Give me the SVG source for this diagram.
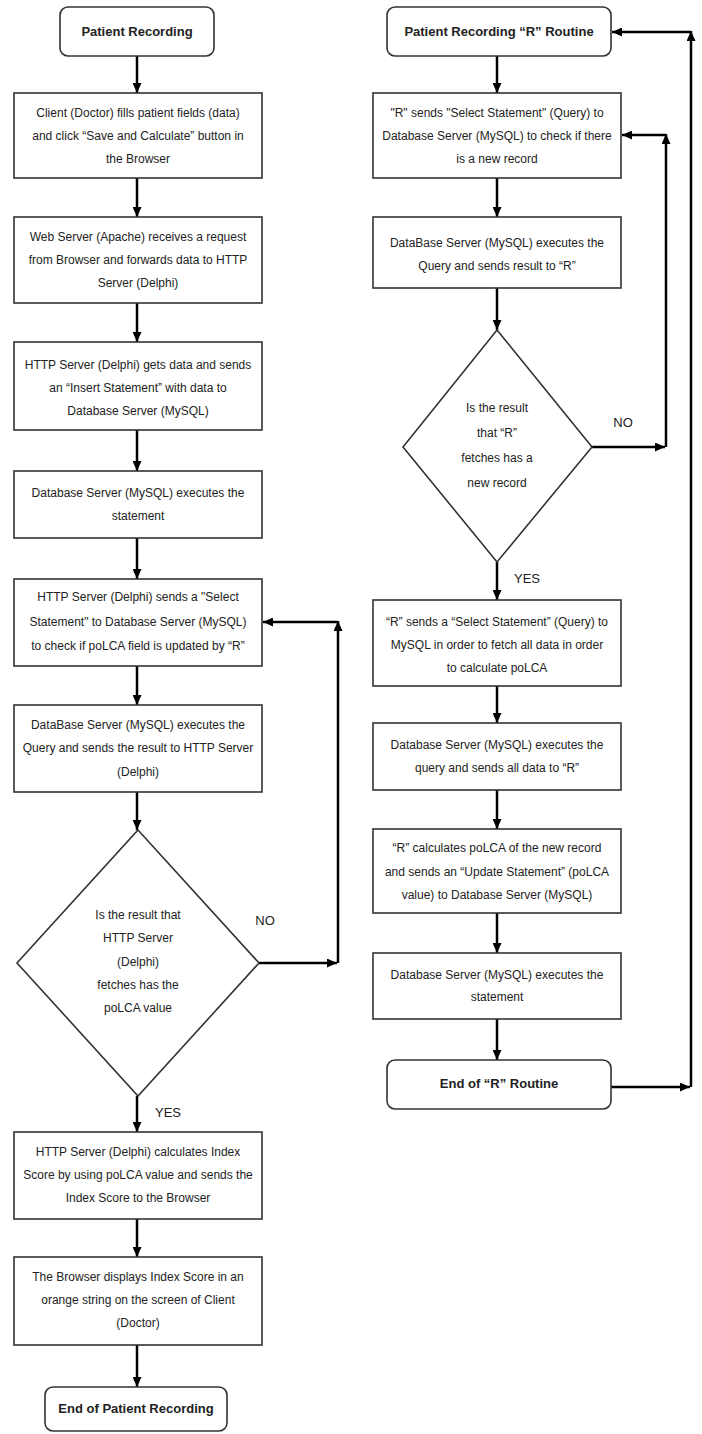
<svg xmlns="http://www.w3.org/2000/svg" width="702" height="1434" viewBox="0 0 702 1434">
<defs>
<marker id="ah" markerUnits="userSpaceOnUse" markerWidth="10" markerHeight="9" refX="10" refY="4.5" orient="auto">
<path d="M0,0 L10,4.5 L0,9 z" fill="#000"/>
</marker>
<style>
.box{fill:#fff;stroke:#333;stroke-width:1.6}
.t{font-family:"Liberation Sans",Arial,sans-serif;font-size:12px;fill:#222;text-anchor:middle}
.tb{font-family:"Liberation Sans",Arial,sans-serif;font-size:13px;font-weight:bold;fill:#222;text-anchor:middle}
.lbl{font-family:"Liberation Sans",Arial,sans-serif;font-size:13px;fill:#222;text-anchor:middle}
.c{fill:none;stroke:#000;stroke-width:2.5;marker-end:url(#ah)}
</style>
</defs>
<rect width="702" height="1434" fill="#fff"/>

<g id="connectors">
<path class="c" d="M137,56 V93"/>
<path class="c" d="M137,178 V217"/>
<path class="c" d="M137,303 V342"/>
<path class="c" d="M137,430 V471"/>
<path class="c" d="M137,538 V579"/>
<path class="c" d="M137,666 V705"/>
<path class="c" d="M137,792 V830"/>
<path class="c" d="M137,1096 V1132"/>
<path class="c" d="M137,1219 V1257"/>
<path class="c" d="M137,1345 V1387"/>
<path class="c" d="M259,963 H337"/>
<path class="c" d="M338,963 V621"/>
<path class="c" d="M338,622 H263"/>
<path class="c" d="M497,56 V93"/>
<path class="c" d="M497,178 V217"/>
<path class="c" d="M497,288 V330"/>
<path class="c" d="M497,562 V600"/>
<path class="c" d="M497,686 V723"/>
<path class="c" d="M497,790 V829"/>
<path class="c" d="M497,913 V953"/>
<path class="c" d="M497,1019 V1060"/>
<path class="c" d="M592,447 H665"/>
<path class="c" d="M666,447 V134"/>
<path class="c" d="M666,135 H622"/>
<path class="c" d="M611,1087 H690"/>
<path class="c" d="M691,1087 V31"/>
<path class="c" d="M691,32 H612"/>
<text class="lbl" x="265" y="925">NO</text>
<text class="lbl" x="168" y="1117">YES</text>
<text class="lbl" x="623" y="427">NO</text>
<text class="lbl" x="527" y="583">YES</text>
</g>

<g id="start-left">
<rect class="box" x="60" y="7" width="154" height="49" rx="8"/>
<text class="tb" x="137" y="36">Patient Recording</text>
</g>
<g id="l1">
<rect class="box" x="14" y="93" width="248" height="85"/>
<text class="t" x="138" y="117">Client (Doctor) fills patient fields (data)</text>
<text class="t" x="138" y="140">and click “Save and Calculate” button in</text>
<text class="t" x="138" y="163">the Browser</text>
</g>
<g id="l2">
<rect class="box" x="14" y="217" width="248" height="86"/>
<text class="t" x="138" y="241">Web Server (Apache) receives a request</text>
<text class="t" x="138" y="264">from Browser and forwards data to HTTP</text>
<text class="t" x="138" y="287">Server (Delphi)</text>
</g>
<g id="l3">
<rect class="box" x="14" y="342" width="248" height="88"/>
<text class="t" x="138" y="369">HTTP Server (Delphi) gets data and sends</text>
<text class="t" x="138" y="392">an “Insert Statement” with data to</text>
<text class="t" x="138" y="415">Database Server (MySQL)</text>
</g>
<g id="l4">
<rect class="box" x="14" y="471" width="248" height="67"/>
<text class="t" x="138" y="497">Database Server (MySQL) executes the</text>
<text class="t" x="138" y="520">statement</text>
</g>
<g id="l5">
<rect class="box" x="14" y="579" width="248" height="87"/>
<text class="t" x="138" y="601">HTTP Server (Delphi) sends a "Select</text>
<text class="t" x="138" y="626">Statement" to Database Server (MySQL)</text>
<text class="t" x="138" y="650">to check if poLCA field is updated by “R”</text>
</g>
<g id="l6">
<rect class="box" x="14" y="705" width="248" height="87"/>
<text class="t" x="138" y="729">DataBase Server (MySQL) executes the</text>
<text class="t" x="138" y="752">Query and sends the result to HTTP Server</text>
<text class="t" x="138" y="776">(Delphi)</text>
</g>
<g id="l-decision">
<polygon class="box" points="138,830 259,963 138,1096 17,963"/>
<text class="t" x="138" y="919">Is the result that</text>
<text class="t" x="138" y="942">HTTP Server</text>
<text class="t" x="138" y="966">(Delphi)</text>
<text class="t" x="138" y="989">fetches has the</text>
<text class="t" x="138" y="1012">poLCA value</text>
</g>
<g id="l7">
<rect class="box" x="14" y="1132" width="248" height="87"/>
<text class="t" x="138" y="1156">HTTP Server (Delphi) calculates Index</text>
<text class="t" x="138" y="1179">Score by using poLCA value and sends the</text>
<text class="t" x="138" y="1202">Index Score to the Browser</text>
</g>
<g id="l8">
<rect class="box" x="14" y="1257" width="248" height="88"/>
<text class="t" x="138" y="1281">The Browser displays Index Score in an</text>
<text class="t" x="138" y="1304">orange string on the screen of Client</text>
<text class="t" x="138" y="1327">(Doctor)</text>
</g>
<g id="end-left">
<rect class="box" x="45" y="1387" width="182" height="44" rx="8"/>
<text class="tb" x="136" y="1413">End of Patient Recording</text>
</g>

<g id="start-right">
<rect class="box" x="387" y="7" width="224" height="49" rx="8"/>
<text class="tb" x="499" y="36">Patient Recording “R” Routine</text>
</g>
<g id="r1">
<rect class="box" x="373" y="93" width="248" height="85"/>
<text class="t" x="497" y="117">"R" sends "Select Statement" (Query) to</text>
<text class="t" x="497" y="140">Database Server (MySQL) to check if there</text>
<text class="t" x="497" y="163">is a new record</text>
</g>
<g id="r2">
<rect class="box" x="373" y="217" width="248" height="71"/>
<text class="t" x="497" y="247">DataBase Server (MySQL) executes the</text>
<text class="t" x="497" y="270">Query and sends result to “R”</text>
</g>
<g id="r-decision">
<polygon class="box" points="497,330 592,447 497,562 403,447"/>
<text class="t" x="497" y="412">Is the result</text>
<text class="t" x="497" y="437">that “R”</text>
<text class="t" x="497" y="462">fetches has a</text>
<text class="t" x="497" y="487">new record</text>
</g>
<g id="r3">
<rect class="box" x="373" y="600" width="248" height="86"/>
<text class="t" x="497" y="626">“R” sends a “Select Statement” (Query) to</text>
<text class="t" x="497" y="649">MySQL in order to fetch all data in order</text>
<text class="t" x="497" y="672">to calculate poLCA</text>
</g>
<g id="r4">
<rect class="box" x="373" y="723" width="248" height="67"/>
<text class="t" x="497" y="749">Database Server (MySQL) executes the</text>
<text class="t" x="497" y="772">query and sends all data to “R”</text>
</g>
<g id="r5">
<rect class="box" x="373" y="829" width="248" height="84"/>
<text class="t" x="497" y="852">“R” calculates poLCA of the new record</text>
<text class="t" x="497" y="876">and sends an “Update Statement” (poLCA</text>
<text class="t" x="497" y="899">value) to Database Server (MySQL)</text>
</g>
<g id="r6">
<rect class="box" x="373" y="953" width="248" height="66"/>
<text class="t" x="497" y="979">Database Server (MySQL) executes the</text>
<text class="t" x="497" y="1001">statement</text>
</g>
<g id="end-right">
<rect class="box" x="387" y="1060" width="224" height="49" rx="8"/>
<text class="tb" x="499" y="1088">End of “R” Routine</text>
</g>
</svg>
